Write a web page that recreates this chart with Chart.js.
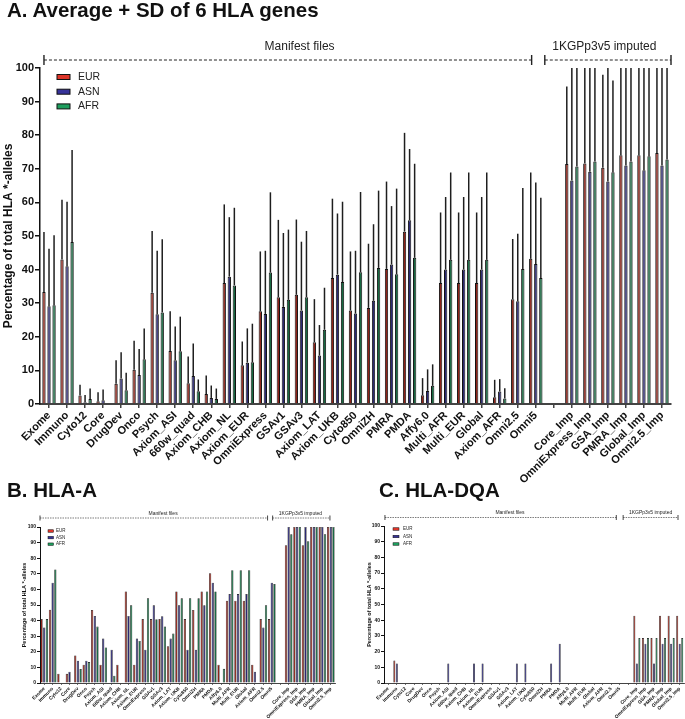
<!DOCTYPE html>
<html>
<head>
<meta charset="utf-8">
<title>HLA allele coverage</title>
<script src="https://cdn.jsdelivr.net/npm/chart.js@4.4.0/dist/chart.umd.min.js"></script>
<style>
  html, body { margin: 0; padding: 0; background: #fff; }
  body { width: 685px; height: 719px; position: relative; overflow: hidden; font-family: "Liberation Sans", Arial, sans-serif; }
  .panel-title { position: absolute; font-weight: bold; font-size: 20.5px; line-height: 20px; color: #111; white-space: nowrap; }
  canvas { position: absolute; }
</style>
</head>
<body>
<canvas id="chartA" style="left:0;top:0" width="685" height="540"></canvas>
<canvas id="chartB" style="left:0;top:505px" width="342" height="214"></canvas>
<canvas id="chartC" style="left:342px;top:505px" width="343" height="214"></canvas>
<div class="panel-title" style="left:7px;top:0px">A. Average + SD of 6 HLA genes</div>
<div class="panel-title" style="left:7px;top:480px">B. HLA-A</div>
<div class="panel-title" style="left:379px;top:480px">C. HLA-DQA</div>

<script>
// Genotyping arrays (empty label = gap between manifest and imputed groups)
var categories = ["Exome", "Immuno", "Cyto12", "Core", "DrugDev", "Onco", "Psych", "Axiom_ASI",
    "660w_quad", "Axiom_CHB", "Axiom_NL", "Axiom_EUR", "OmniExpress", "GSAv1", "GSAv3", "Axiom_LAT",
    "Axiom_UKB", "Cyto850", "OmniZH", "PMRA", "PMDA", "Affy6.0", "Multi_AFR", "Multi_EUR", "Global",
    "Axiom_AFR", "Omni2.5", "Omni5", "", "Core_Imp", "OmniExpress_Imp", "GSA_Imp", "PMRA_Imp",
    "Global_Imp", "Omni2.5_Imp"];
var populations = ["EUR", "ASN", "AFR"];
var yTicks = [0, 10, 20, 30, 40, 50, 60, 70, 80, 90, 100];

// A. average of 6 HLA genes
var eurA = [33.3, 43.0, 2.5, 0.8, 6.0, 10.2, 33.1, 15.8, 6.2, 3.0, 36.0, 11.5, 27.6, 31.8, 32.5, 18.4, 37.5, 27.8,
    28.6, 40.2, 51.3, 2.6, 36.0, 36.0, 36.0, 2.0, 31.2, 43.2, null, 71.4, 71.6, 70.3, 74.0, 74.0, 74.7];
var asnA = [29.1, 41.0, 0.5, 1.1, 7.6, 8.6, 26.7, 13.0, 8.3, 1.8, 37.9, 12.3, 26.8, 28.9, 27.8, 14.4, 38.5, 26.9,
    30.7, 41.5, 54.7, 3.9, 40.0, 40.0, 40.0, 3.7, 30.6, 41.7, null, 66.5, 69.1, 66.2, 71.0, 69.6, 71.0];
var afrA = [29.4, 48.2, 1.5, 0, 4.1, 13.3, 27.2, 15.7, 3.8, 1.5, 35.3, 12.4, 39.1, 31.0, 31.8, 22.1, 36.3, 39.2,
    40.5, 38.6, 43.5, 5.4, 42.9, 42.9, 42.9, 1.6, 40.2, 37.5, null, 70.7, 72.2, 69.0, 72.2, 73.7, 72.8];
// A. mean + SD (top of the error line, clipped at 100)
var eurTopA = [51.2, 60.8, 5.7, 3.5, 13.0, 18.8, 51.5, 27.6, 14.1, 8.5, 59.4, 18.6, 45.4, 54.8, 54.9, 31.2, 61.1, 45.4,
    47.7, 66.2, 80.7, 7.7, 57.0, 57.0, 57.0, 7.2, 49.1, 68.9, null, 94.5, 100, 98.0, 100, 100, 100];
var asnTopA = [46.2, 60.2, 2.7, 4.3, 15.4, 16.4, 45.6, 23.1, 18.0, 5.5, 55.6, 22.5, 45.6, 50.9, 48.3, 23.5, 56.7, 45.6,
    53.5, 58.9, 75.9, 10.3, 61.6, 61.6, 61.6, 7.4, 50.7, 65.9, null, 100, 100, 100, 100, 100, 100];
var afrTopA = [50.2, 75.6, 4.6, 0, 9.3, 22.5, 49.0, 26.0, 7.3, 4.6, 58.4, 23.9, 63.0, 51.9, 51.5, 34.6, 60.2, 63.1,
    63.5, 64.1, 71.5, 11.8, 68.9, 68.9, 68.9, 4.7, 64.3, 61.4, null, 100, 100, 96.3, 100, 100, 100];

// B. HLA-A
var eurB = [41.0, 47.0, 5.9, 5.9, 17.7, 11.7, 46.8, 11.7, 0, 11.7, 58.7, 11.7, 41.0, 41.0, 41.0, 23.6, 58.7, 41.0,
    46.8, 58.7, 70.4, 11.7, 52.8, 52.8, 52.8, 11.7, 41.0, 41.0, null, 88.3, 100, 88.3, 100, 100, 100];
var asnB = [35.5, 64.3, 0, 7.2, 14.3, 14.3, 43.0, 28.5, 21.3, 0, 43.0, 28.5, 21.3, 49.8, 42.8, 28.5, 49.8, 21.3,
    21.3, 49.8, 64.3, 0, 57.0, 57.0, 57.0, 7.2, 35.5, 64.3, null, 100, 100, 100, 100, 100, 100];
var afrB = [41.0, 72.8, 0, 0, 8.9, 13.4, 36.2, 22.8, 4.7, 0, 49.8, 27.0, 54.3, 40.9, 36.2, 31.7, 54.3, 54.3,
    54.3, 58.7, 58.7, 9.1, 72.3, 72.3, 72.3, 0, 49.8, 63.4, null, 95.3, 100, 90.9, 100, 95.3, 100];

// C. HLA-DQA
var eurC = [0, 14.3, 0, 0, 0, 0, 0, 0, 0, 0, 0, 0, 0, 0, 0, 0, 0, 0,
    0, 0, 0, 0, 0, 0, 0, 0, 0, 0, null, 42.9, 28.6, 28.6, 42.9, 42.9, 42.9];
var asnC = [0, 12.5, 0, 0, 0, 0, 0, 12.5, 0, 0, 12.5, 12.5, 0, 0, 0, 12.5, 12.5, 0,
    0, 12.5, 25.0, 0, 0, 0, 0, 0, 0, 0, null, 12.5, 25.0, 12.5, 25.0, 25.0, 25.0];
var afrC = [0, 0, 0, 0, 0, 0, 0, 0, 0, 0, 0, 0, 0, 0, 0, 0, 0, 0,
    0, 0, 0, 0, 0, 0, 0, 0, 0, 0, null, 28.6, 28.6, 28.6, 28.6, 28.6, 28.6];

// legend swatches are bright, the thin bars read darker
var legendColors = ["#dc3529", "#37339a", "#1e9e5e"];
var barColors = ["#8e2319", "#2c2974", "#186a42"];
var FONT = '"Liberation Sans", Arial, sans-serif';

Chart.defaults.font.family = FONT;
Chart.defaults.color = "#111";

// error lines, dashed group brackets and the little legend
var decorPlugin = {
    id: "decor",
    afterDatasetsDraw: function (chart, args, opts) {
        if (!opts.upper) return;
        var ctx = chart.ctx, y = chart.scales.y;
        ctx.save();
        ctx.strokeStyle = "#1e1e1e";
        ctx.lineWidth = opts.errWidth;
        chart.data.datasets.forEach(function (ds, i) {
            chart.getDatasetMeta(i).data.forEach(function (bar, j) {
                var top = opts.upper[i][j];
                if (top == null || ds.data[j] == null || top <= ds.data[j]) return;
                ctx.beginPath();
                ctx.moveTo(bar.x, bar.y);
                ctx.lineTo(bar.x, y.getPixelForValue(top));
                ctx.stroke();
            });
        });
        ctx.restore();
    },
    afterDraw: function (chart, args, opts) {
        var ctx = chart.ctx, x = chart.scales.x, area = chart.chartArea;
        var b = opts.bracket;
        ctx.save();
        ctx.strokeStyle = "#222";
        ctx.fillStyle = "#222";
        ctx.font = b.fontSize + "px " + FONT;
        ctx.textAlign = "center";
        ctx.textBaseline = "middle";
        b.groups.forEach(function (g) {
            var x1 = x.getPixelForValue(g.from), x2 = x.getPixelForValue(g.to);
            var yb = area.top - b.dy;
            ctx.lineWidth = b.lineWidth;
            ctx.setLineDash(b.dash);
            ctx.beginPath();
            ctx.moveTo(x1, yb);
            ctx.lineTo(x2, yb);
            ctx.stroke();
            ctx.setLineDash([]);
            ctx.lineWidth = b.lineWidth * 1.4;
            ctx.beginPath();
            ctx.moveTo(x1, yb - b.tick);
            ctx.lineTo(x1, yb + b.tick);
            ctx.moveTo(x2, yb - b.tick);
            ctx.lineTo(x2, yb + b.tick);
            ctx.stroke();
            ctx.fillText(g.text, x.getPixelForValue(g.at), area.top - b.textDy);
        });

        var lg = opts.legend;
        ctx.font = lg.fontSize + "px " + FONT;
        ctx.textAlign = "left";
        chart.data.datasets.forEach(function (ds, i) {
            var bx = area.left + lg.dx, by = area.top + lg.dy + i * lg.step;
            ctx.fillStyle = legendColors[i];
            ctx.fillRect(bx, by - lg.h / 2, lg.w, lg.h);
            ctx.lineWidth = lg.border;
            ctx.strokeStyle = "#111";
            ctx.strokeRect(bx, by - lg.h / 2, lg.w, lg.h);
            ctx.fillStyle = "#222";
            ctx.fillText(ds.label, bx + lg.textDx, by);
        });
        ctx.restore();
    }
};

function buildChart(canvasId, series, cfg) {
    var datasets = series.map(function (values, i) {
        return {
            label: populations[i],
            data: values,
            backgroundColor: barColors[i],
            borderColor: "#121212",
            borderWidth: cfg.barBorder,
            categoryPercentage: cfg.catPct,
            barPercentage: cfg.barPct
        };
    });
    return new Chart(document.getElementById(canvasId), {
        type: "bar",
        data: { labels: categories, datasets: datasets },
        options: {
            responsive: false,
            animation: false,
            layout: { padding: cfg.padding },
            scales: {
                x: {
                    offset: true,
                    grid: { drawOnChartArea: false, offset: false, tickLength: cfg.xTickLen, color: "#444", lineWidth: cfg.xAxisWidth * 0.75 },
                    border: { color: "#444", width: cfg.xAxisWidth },
                    ticks: {
                        autoSkip: false, maxRotation: 45, minRotation: 45, padding: cfg.xTickPad, color: "#111",
                        font: { size: cfg.xFont, weight: "bold" }
                    },
                    afterFit: function (s) { s.height = cfg.xHeight; s.paddingLeft = 0; s.paddingRight = 0; }
                },
                y: {
                    min: 0,
                    max: 100,
                    afterBuildTicks: function (s) { s.ticks = yTicks.map(function (v) { return { value: v }; }); },
                    grid: { drawOnChartArea: false, tickLength: cfg.yTickLen, color: "#111", lineWidth: cfg.yAxisWidth },
                    border: { color: "#111", width: cfg.yAxisWidth },
                    ticks: { padding: cfg.yTickPad, color: "#111", font: { size: cfg.yFont, weight: "bold" } },
                    title: {
                        display: true, text: "Percentage of total HLA *-alleles", color: "#111",
                        font: { size: cfg.titleFont, weight: "bold" }, padding: { top: cfg.titlePad, bottom: 0 }
                    },
                    afterFit: function (s) { s.width = cfg.yWidth; s.paddingTop = 0; s.paddingBottom = 0; }
                }
            },
            plugins: {
                legend: { display: false },
                tooltip: { enabled: false },
                decor: { upper: cfg.upper, errWidth: cfg.errWidth, bracket: cfg.bracket, legend: cfg.legend }
            }
        },
        plugins: [decorPlugin]
    });
}

// Panel A
buildChart("chartA", [eurA, asnA, afrA], {
    padding: { top: 68, right: 14, left: 0, bottom: 0 },
    yWidth: 40, xHeight: 136,
    catPct: 0.84, barPct: 0.66, barBorder: 1,
    xFont: 11, yFont: 11, titleFont: 12, titlePad: 1,
    xTickLen: 4, yTickLen: 5, xTickPad: 1, yTickPad: 1,
    xAxisWidth: 2, yAxisWidth: 1.5,
    upper: [eurTopA, asnTopA, afrTopA], errWidth: 1.5,
    bracket: {
        fontSize: 12, dy: 8, tick: 5, textDy: 21, lineWidth: 1, dash: [3, 2],
        groups: [
            { from: -0.28, to: 26.77, at: 13.9, text: "Manifest files" },
            { from: 27.5, to: 34.5, at: 30.8, text: "1KGPp3v5 imputed" }
        ]
    },
    legend: { dx: 17, dy: 9, step: 14.7, w: 13, h: 5, border: 1, textDx: 21, fontSize: 10.5 }
});

// Panel B
buildChart("chartB", [eurB, asnB, afrB], {
    padding: { top: 22, right: 7, left: 0, bottom: 0 },
    yWidth: 40, xHeight: 36,
    catPct: 0.95, barPct: 0.85, barBorder: 0.6,
    xFont: 4.8, yFont: 5, titleFont: 5.5, titlePad: 21,
    xTickLen: 2, yTickLen: 3, xTickPad: 1, yTickPad: 1,
    xAxisWidth: 1, yAxisWidth: 1,
    upper: null, errWidth: 1,
    bracket: {
        fontSize: 5, dy: 9, tick: 2.5, textDy: 13.5, lineWidth: 0.6, dash: [1.5, 1],
        groups: [
            { from: -0.5, to: 26.5, at: 14.1, text: "Manifest files" },
            { from: 27.1, to: 33.9, at: 30.4, text: "1KGPp3v5 imputed" }
        ]
    },
    legend: { dx: 8, dy: 4, step: 6.6, w: 5.5, h: 2.5, border: 0.5, textDx: 8, fontSize: 4.5 }
});

// Panel C
buildChart("chartC", [eurC, asnC, afrC], {
    padding: { top: 21, right: 1, left: 0, bottom: 0 },
    yWidth: 42, xHeight: 36,
    catPct: 0.88, barPct: 0.8, barBorder: 0.6,
    xFont: 4.8, yFont: 5, titleFont: 5.5, titlePad: 24,
    xTickLen: 2, yTickLen: 3, xTickPad: 1, yTickPad: 1,
    xAxisWidth: 1, yAxisWidth: 1,
    upper: null, errWidth: 1,
    bracket: {
        fontSize: 5, dy: 8.5, tick: 2.5, textDy: 13.5, lineWidth: 0.6, dash: [1.5, 1],
        groups: [
            { from: -0.39, to: 26.6, at: 14.2, text: "Manifest files" },
            { from: 27.4, to: 33.8, at: 30.6, text: "1KGPp3v5 imputed" }
        ]
    },
    legend: { dx: 9, dy: 3, step: 7.5, w: 6, h: 2.5, border: 0.5, textDx: 10, fontSize: 4.5 }
});
</script>
</body>
</html>
